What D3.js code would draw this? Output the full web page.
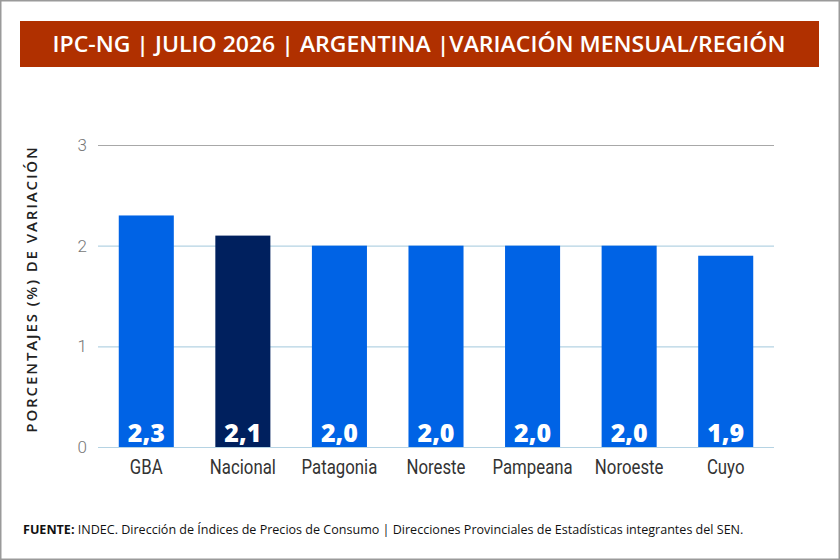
<!DOCTYPE html>
<html>
<head>
<meta charset="utf-8">
<script src="https://cdn.jsdelivr.net/npm/d3@7"></script>
<style>
  body { margin: 0; background: #fff; }
  svg { display: block; }
</style>
</head>
<body>
<svg width="840" height="560"></svg>
<script>
var regions = ["GBA", "Nacional", "Patagonia", "Noreste", "Pampeana", "Noroeste", "Cuyo"];
var values = [2.3, 2.1, 2.0, 2.0, 2.0, 2.0, 1.9];
var yTicks = [0, 1, 2, 3];

var svg = d3.select("svg");

// outer frame
svg.append("rect")
    .attr("x", 0.75).attr("y", 0.75)
    .attr("width", 838.5).attr("height", 558.5)
    .attr("fill", "#fff")
    .attr("stroke", "#9a9a9a")
    .attr("stroke-width", 1.5);

// title banner
svg.append("rect")
    .attr("x", 20).attr("y", 21)
    .attr("width", 799).attr("height", 46)
    .attr("fill", "#b03000");

svg.append("text")
    .attr("x", 419).attr("y", 52)
    .attr("text-anchor", "middle")
    .attr("fill", "#fff")
    .attr("font-family", "'Open Sans', sans-serif")
    .attr("font-weight", 600)
    .attr("font-size", 21)
    .attr("textLength", 733)
    .attr("lengthAdjust", "spacingAndGlyphs")
    .text("IPC-NG | JULIO 2026 | ARGENTINA |VARIACIÓN MENSUAL/REGIÓN");

var x = d3.scaleBand()
    .domain(regions)
    .range([98, 774])
    .paddingInner(0.43)
    .paddingOuter(0.215);

var y = d3.scaleLinear()
    .domain([0, 3])
    .range([447, 145]);

// gridlines
svg.append("g")
    .selectAll("line")
    .data(yTicks)
    .enter().append("line")
    .attr("x1", 98).attr("x2", 774)
    .attr("y1", function(d) { return y(d) + 0.5; })
    .attr("y2", function(d) { return y(d) + 0.5; })
    .attr("stroke", function(d) { return d === 3 ? "#a8a8a8" : "#b5d3e3"; })
    .attr("stroke-width", 1.2);

// y tick labels
svg.append("g")
    .selectAll("text")
    .data(yTicks)
    .enter().append("text")
    .attr("x", 87)
    .attr("y", function(d) { return y(d) + 6; })
    .attr("text-anchor", "end")
    .attr("fill", "#777")
    .attr("font-family", "Roboto, sans-serif")
    .attr("font-weight", 300)
    .attr("font-size", 17)
    .text(function(d) { return d; });

// y axis title
svg.append("text")
    .attr("transform", "translate(37,289) rotate(-90)")
    .attr("text-anchor", "middle")
    .attr("fill", "#222")
    .attr("font-family", "'Open Sans', sans-serif")
    .attr("font-weight", 600)
    .attr("font-size", 15)
    .attr("letter-spacing", 1.9)
    .text("PORCENTAJES (%) DE VARIACIÓN");

// bars
svg.append("g")
    .selectAll("rect")
    .data(values)
    .enter().append("rect")
    .attr("x", function(d, i) { return x(regions[i]); })
    .attr("y", function(d) { return y(d); })
    .attr("width", x.bandwidth())
    .attr("height", function(d) { return y(0) - y(d); })
    .attr("fill", function(d, i) { return regions[i] === "Nacional" ? "#00205e" : "#0063e5"; });

// value labels inside bars
svg.append("g")
    .selectAll("text")
    .data(values)
    .enter().append("text")
    .attr("x", function(d, i) { return x(regions[i]) + x.bandwidth() / 2; })
    .attr("y", y(0) - 5)
    .attr("text-anchor", "middle")
    .attr("fill", "#fff")
    .attr("font-family", "'Open Sans', sans-serif")
    .attr("font-weight", 800)
    .attr("font-size", 25)
    .text(function(d) { return d3.format(".1f")(d).replace(".", ","); });

// category labels (narrowed to mimic a condensed face)
svg.append("g")
    .selectAll("text")
    .data(regions)
    .enter().append("text")
    .attr("transform", function(d) {
        return "translate(" + (x(d) + x.bandwidth() / 2) + ",474) scale(0.84,1)";
    })
    .attr("text-anchor", "middle")
    .attr("fill", "#333")
    .attr("font-family", "Roboto, sans-serif")
    .attr("font-size", 20)
    .text(function(d) { return d; });

// source
var src = svg.append("text")
    .attr("x", 23).attr("y", 534)
    .attr("fill", "#111")
    .attr("font-family", "'Open Sans', sans-serif")
    .attr("font-size", 12.55);
src.append("tspan").attr("font-weight", 700).text("FUENTE:");
src.append("tspan").text(" INDEC. Dirección de Índices de Precios de Consumo | Direcciones Provinciales de Estadísticas integrantes del SEN.");
</script>
</body>
</html>
